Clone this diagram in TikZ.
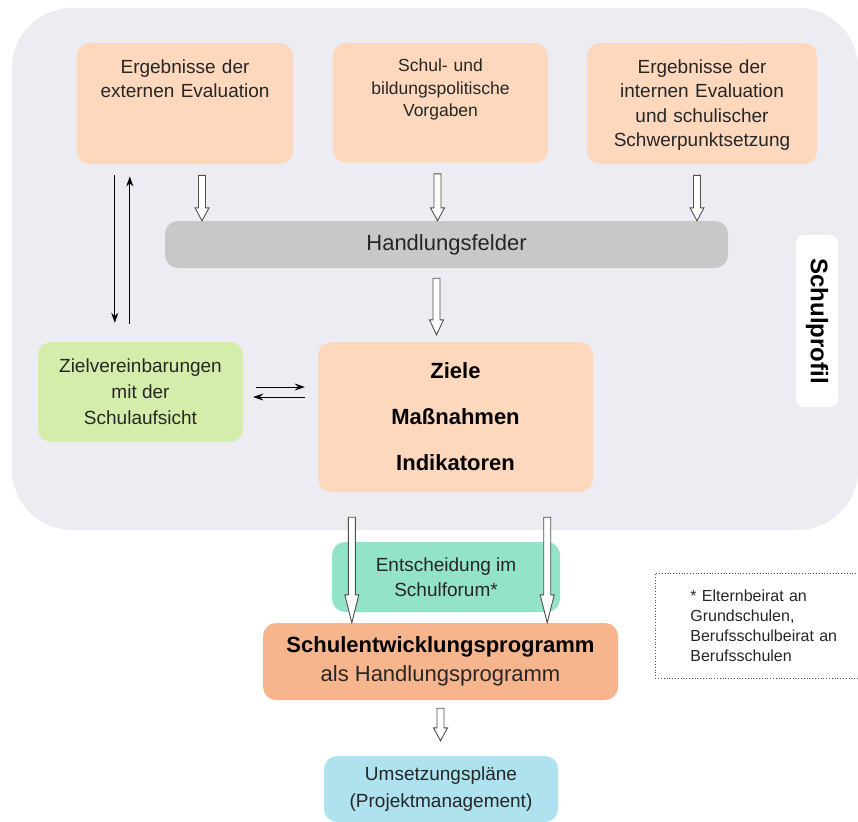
\documentclass[tikz,border=0pt]{standalone}
\usepackage{fontspec}
\setmainfont{Liberation Sans}
\usepackage{xcolor}
\usepackage{tikz}
\usetikzlibrary{arrows.meta, positioning, calc}
\definecolor{ProfilBg}{HTML}{EDECF2}
\definecolor{Peach}{HTML}{FDD8BD}
\definecolor{DeepPeach}{HTML}{F7B58D}
\definecolor{SoftGreen}{HTML}{D5EDAA}
\definecolor{Mint}{HTML}{93E3C9}
\definecolor{SkyBlue}{HTML}{AEE2EE}
\definecolor{BarGrey}{HTML}{C8C8C8}
\definecolor{TextDark}{HTML}{262626}
\definecolor{ArrowGrey}{HTML}{505050}

\begin{document}
\begin{tikzpicture}[x=1pt, y=-1pt,
    every node/.style={text=TextDark},
    box/.style={fill=#1, rounded corners=13pt, align=center, inner sep=0pt},
    topbox/.style={
      box=Peach, anchor=north, inner xsep=8pt, inner ysep=16pt,
      text height=14pt, text depth=75pt,
      font=\fontsize{19}{24.5}\selectfont
    },
    mid/.style={font=\fontsize{19}{25.5}\selectfont},
    big/.style={font=\fontsize{22}{29}\selectfont},
    link/.style={-{Stealth[length=10pt, width=7pt]}, line width=1pt},
    hollow/.style={
      draw=ArrowGrey, fill=white, line width=0.9pt,
      to path={let \p1=(\tikztostart), \p2=(\tikztotarget) in
        (\x1-3.5pt,\y1) -- (\x1-3.5pt,\y2+#1) -- (\x1-7pt,\y2+#1) -- (\x1,\y2)
        -- (\x1+7pt,\y2+#1) -- (\x1+3.5pt,\y2+#1) -- (\x1+3.5pt,\y1) -- cycle}
    },
    hollow/.default=13pt,
    note/.style={draw=ArrowGrey, dotted, line width=0.8pt, align=left,
      text width=150pt, inner xsep=35pt, minimum height=105pt,
      font=\fontsize{16}{20}\selectfont}
  ]
    \useasboundingbox (0,0) rectangle (858,821);

    % Schulprofil
    \fill[ProfilBg, rounded corners=60pt] (12,8) rectangle (858,530);

    \node[topbox, text width=200pt] (ext) at (185,43) {Ergebnisse der\\externen Evaluation};
    \node[topbox, text width=199pt, font=\fontsize{17.5}{22.5}\selectfont, text height=12.5pt] (svp) at (440.5,43)
      {Schul- und\\bildungspolitische\\Vorgaben};
    \node[topbox, text width=214pt] (int) at (702,43)
      {Ergebnisse der\\internen Evaluation\\und schulischer\\Schwerpunktsetzung};

    \node[box=BarGrey, minimum width=563pt, minimum height=47pt, font=\fontsize{22}{26}\selectfont] (hf) at (446.5,244.5) {Handlungsfelder};
    \node[box=white, rotate=-90, minimum width=172pt, minimum height=42pt, rounded corners=8pt,
      font=\fontsize{24}{24}\selectfont\bfseries, text=black] (sp) at (817,321) {Schulprofil};

    \node[box=SoftGreen, mid, minimum width=205pt, minimum height=100pt, font=\fontsize{19}{26}\selectfont] (zv) at (140.5,392)
      {Zielvereinbarungen\\mit der\\Schulaufsicht};
    \node[box=Peach, minimum width=275pt, minimum height=150pt, font=\fontsize{22}{46}\selectfont\bfseries, text=black] (ziele) at (455.5,417)
      {Ziele\\Maßnahmen\\Indikatoren};

    \node[box=Mint, mid, minimum width=228pt, minimum height=70pt] (forum) at (446,577) {Entscheidung im\\Schulforum*};
    \node[box=DeepPeach, big, minimum width=355pt, minimum height=77pt] (sep) at (440.5,661.5)
      {\textbf{\color{black}Schulentwicklungsprogramm}\\als Handlungsprogramm};
    \node[box=SkyBlue, mid, minimum width=234pt, minimum height=66pt, font=\fontsize{19}{27}\selectfont] (ums) at (441,789)
      {Umsetzungspläne\\(Projektmanagement)};

    \node[note, anchor=north west] (fn) at (655,573)
      {* Elternbeirat an\\Grundschulen,\\Berufsschulbeirat an\\Berufsschulen};

    % Pfeile
    \draw[hollow] ($(ext.south)+(17,11)$) to (hf.north);
    \draw[hollow] ($(svp.south)+(-3,11)$) to (hf.north);
    \draw[hollow] ($(int.south)+(-5,11)$) to (hf.north);
    \draw[hollow=15pt] ($(hf.south)+(-10,10)$) to ($(ziele.north)+(0,-7)$);
    \draw[hollow=28pt] ($(ziele.south west)+(34,25)$) to (sep.north);
    \draw[hollow=28pt] ($(ziele.south east)+(-46,25)$) to (sep.north);
    \draw[hollow] ($(sep.south)+(0,8)$) to ($(ums.north)+(0,-15)$);

    \draw[link] ($(ext.south west)+(38,11)$) -- ($(zv.north west)+(77,-19)$);
    \draw[link] ($(zv.north west)+(92,-18)$) -- ($(ext.south west)+(53,12)$);
    \draw[link] ($(zv.east)+(13,-5)$) -- ($(ziele.west |- zv.east)+(-13,-5)$);
    \draw[link] ($(ziele.west |- zv.east)+(-13,5)$) -- ($(zv.east)+(10,5)$);
  \end{tikzpicture}
\end{document}
